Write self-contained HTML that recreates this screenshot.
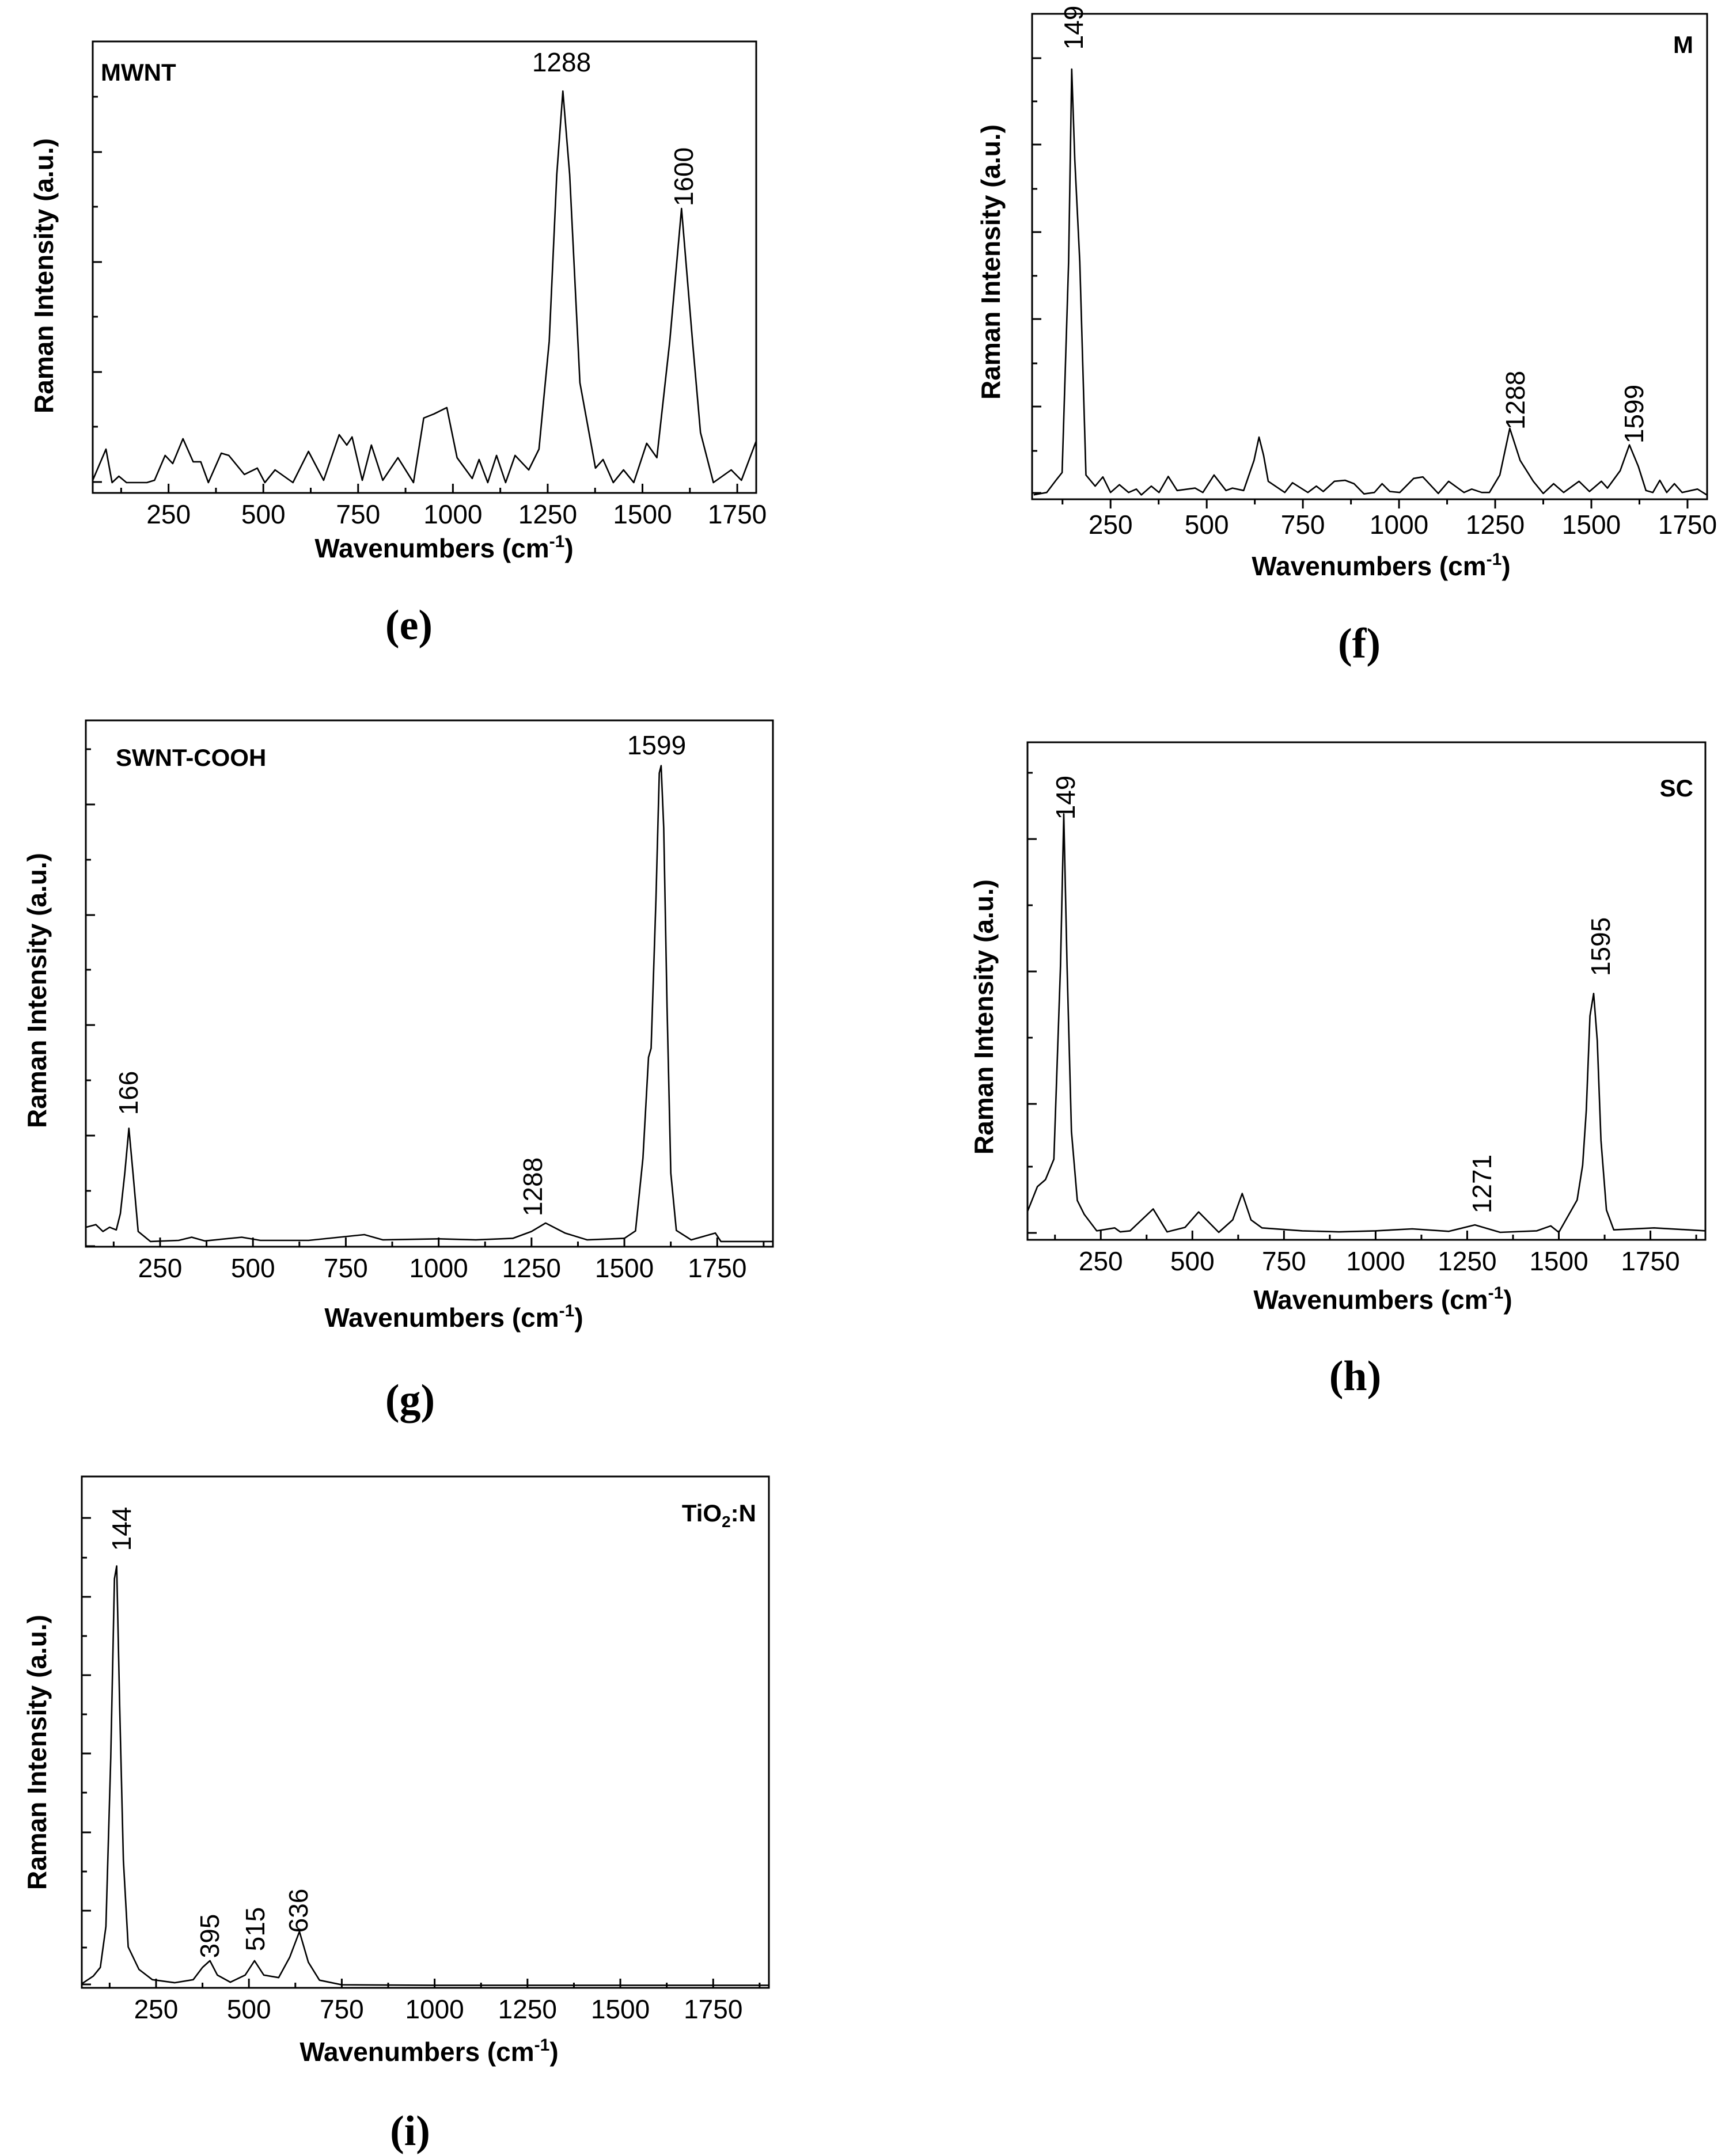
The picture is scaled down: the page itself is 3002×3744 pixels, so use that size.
<!DOCTYPE html>
<html><head><meta charset="utf-8"><style>
html,body{margin:0;padding:0;background:#fff;}
svg{display:block;}
text{font-family:"Liberation Sans",Arial,sans-serif;fill:#000;}
.tick{font-size:46px;}
.ttl{font-size:46px;font-weight:bold;}
.name{font-size:42px;font-weight:bold;}
.pk{font-size:46px;}
.plab{font-family:"Liberation Serif",serif;font-size:74px;font-weight:bold;}
</style></head><body>
<svg id="fig" width="3002" height="3744" viewBox="0 0 3002 3744" xmlns="http://www.w3.org/2000/svg"></svg>
<script>
// ---- data (wavenumber cm^-1, relative intensity % of frame height) ----
const eWave=[50,85,101,119,139,193,213,241,261,288,315,335,355,389,409,450,484,504,531,578,619,659,700,720,734,761,785,815,855,896,923,950,984,1011,1051,1069,1092,1115,1139,1164,1200,1227,1254,1274,1290,1308,1335,1376,1396,1423,1450,1477,1511,1538,1572,1603,1632,1653,1687,1734,1761,1800];
const eInt=[2.8,9.7,2.3,3.7,2.3,2.3,2.8,8.3,6.5,12,6.9,6.9,2.3,8.8,8.3,4.1,5.5,2.3,5.1,2.3,9.2,2.8,12.9,10.6,12.4,2.8,10.6,2.8,7.8,2.3,16.6,17.5,18.9,7.8,3.2,7.4,2.3,8.3,2.3,8.3,5.1,9.7,33.6,70.5,89,70.5,24.4,5.5,7.4,2.3,5.1,2.3,11,7.8,33.6,63,33.6,13.4,2.3,5.1,2.8,11.5];
const fWave=[50,84,110,124,141,149,157,170,186,210,230,250,273,297,317,330,356,376,400,423,470,490,519,550,567,596,623,636,648,660,703,723,763,785,803,832,860,883,909,936,956,976,1002,1038,1062,1102,1129,1169,1189,1215,1235,1262,1288,1315,1349,1375,1402,1428,1468,1495,1526,1542,1575,1599,1622,1642,1660,1678,1696,1716,1736,1776,1800];
const fInt=[0.9,1.4,4.1,5.5,48.9,88.6,70,48.9,5,2.7,4.6,1.4,3,1.4,2.1,0.9,2.7,1.4,4.7,1.8,2.3,1.4,5,1.8,2.3,1.8,8,12.8,9,3.7,1.4,3.4,1.4,2.7,1.6,3.7,3.9,3.2,1.1,1.4,3.2,1.6,1.4,4.3,4.6,1.2,3.7,1.4,2.1,1.4,1.4,5,14.6,8,3.7,1.2,3.2,1.4,3.7,1.6,3.7,2.3,5.9,11.2,6.8,1.8,1.4,3.9,1.4,3.2,1.4,2.1,0.9];
const gWave=[50,77,96,114,132,143,155,166,177,191,224,300,335,370,470,520,650,800,850,1000,1100,1200,1250,1288,1340,1400,1500,1530,1550,1565,1572,1585,1594,1599,1606,1615,1625,1640,1680,1745,1760,1900];
const gInt=[3.7,4.2,2.9,3.7,3.2,6.3,14,22.5,14,2.9,1,1.2,1.8,1.1,1.8,1.2,1.2,2.3,1.3,1.5,1.3,1.6,2.9,4.5,2.6,1.3,1.6,3,16.8,36,37.7,66,90,91.4,79.6,45.5,14,3.1,1.3,2.6,1,1];
const hWave=[50,77,99,122,140,149,158,170,186,205,239,288,303,330,393,431,480,517,572,610,636,660,690,800,900,1000,1100,1200,1271,1340,1440,1478,1500,1550,1565,1575,1585,1595,1605,1615,1630,1650,1760,1900];
const hInt=[5.7,10.7,12.1,16.2,55,85.6,55,21.8,7.9,5.1,1.8,2.4,1.6,1.8,6.2,1.6,2.5,5.6,1.5,4,9.3,4,2.4,1.8,1.6,1.8,2.2,1.7,3,1.5,1.8,2.8,1.5,8,15,26,45,49.5,40,20,6,2,2.4,1.8];
const iWave=[50,81,100,115,128,138,144,152,162,175,204,240,300,350,375,395,415,450,490,515,540,580,610,636,660,690,750,1000,1500,1900];
const iInt=[0.8,2.3,4,12,45,80,82.5,55,25,8,3.6,1.6,1,1.6,4,5.3,2.5,1.1,2.5,5.3,2.5,2,6,11,5,1.5,0.6,0.5,0.5,0.5];
const xTicks=[250,500,750,1000,1250,1500,1750];

const NS="http://www.w3.org/2000/svg";
const svg=document.getElementById('fig');
function mk(tag,attrs,parent){const el=document.createElementNS(NS,tag);for(const k in attrs)el.setAttribute(k,attrs[k]);(parent||svg).appendChild(el);return el;}

function panel(p){
  const g=mk('g',{});
  
  
  const W=p.right-p.left,H=p.bottom-p.top;
  const sx=w=>p.left+(w-p.xmin)/(p.xmax-p.xmin)*W;
  const sy=v=>p.bottom-v/100*H;
  const dir=p.out?1:-1;
  p.yt.forEach((y,i)=>{const t=mk('line',{x1:p.left,x2:p.left+(i%2?9:16),y1:y,y2:y,stroke:'#000','stroke-width':3},g);
    
    });
  for(let w=125;w<p.xmax;w+=125){const maj=w%250===0;
    const t=mk('line',{x1:sx(w),x2:sx(w),y1:p.bottom,y2:p.bottom+dir*(maj?16:9),stroke:'#000','stroke-width':3},g);
    
    }
  xTicks.forEach(w=>{const t=mk('text',{x:sx(w),y:p.bottom+(p.out?60:53),'text-anchor':'middle',class:'tick'},g);t.textContent=w;
    
    });
  const pts=p.wave.map((w,i)=>sx(w).toFixed(1)+','+sy(p.ints[i]).toFixed(1)).join(' ');
  const line=mk('polyline',{points:pts,fill:'none',stroke:'#000','stroke-width':2.6,'stroke-linejoin':'round'},g);
  
  
  const fr=mk('rect',{x:p.left,y:p.top,width:W,height:H,fill:'none',stroke:'#000','stroke-width':3},g);
  
  
  const xt=mk('text',{x:p.xt[0],y:p.xt[1],'text-anchor':'middle',class:'ttl'},g);
  xt.innerHTML='Wavenumbers (cm<tspan dy="-18" font-size="30">-1</tspan><tspan dy="18">)</tspan>';
  
  
  const yt=mk('text',{x:0,y:0,'text-anchor':'middle',class:'ttl',transform:`translate(${p.ytl[0]},${p.ytl[1]}) rotate(-90)`},g);
  yt.textContent='Raman Intensity (a.u.)';
  
  
  const nm=mk('text',{x:p.name[0],y:p.name[1],'text-anchor':p.name[2],class:'name'},g);
  nm.innerHTML=p.name[3];
  
  
  p.peaks.forEach(k=>{const t=mk('text',{x:0,y:0,'text-anchor':'middle',class:'pk',transform:`translate(${k[1]},${k[2]}) rotate(${k[3]})`},g);
    t.textContent=k[0];
    
    });
  const pl=mk('text',{x:p.plab[0],y:p.plab[1],'text-anchor':'middle',class:'plab'},g);
  pl.textContent=p.plab[2];
  
  
}

panel({id:'mwnt',left:161,right:1313,top:72,bottom:856,xmin:50,xmax:1800,wave:eWave,ints:eInt,
  yt:[837,741,646,550,455,359,264,168],xt:[771,968],ytl:[92,479],name:[175,140,'start','MWNT'],
  peaks:[['1288',975,124,0],['1600',1203,307,-90]],plab:[710,1110,'(e)']});
panel({id:'m',out:true,left:1792,right:2964,top:24,bottom:867,xmin:46,xmax:1801,wave:fWave,ints:fInt,
  yt:[856,783,706,631,554,479,403,328,251,176,101],xt:[2398,999],ytl:[1736,455],name:[2940,92,'end','M'],
  peaks:[['149',1880,48,-90],['1288',2647,695,-90],['1599',2853,719,-90]],plab:[2360,1142,'(f)']});
panel({id:'swnt-cooh',left:149,right:1342,top:1251,bottom:2165,xmin:50,xmax:1900,wave:gWave,ints:gInt,
  yt:[2164,2068,1972,1876,1780,1684,1589,1493,1397,1301],xt:[788,2304],ytl:[80,1720],name:[201,1330,'start','SWNT-COOH'],
  peaks:[['166',239,1898,-90],['1288',941,2061,-90],['1599',1140,1310,0]],plab:[712,2455,'(g)']});
panel({id:'sc',left:1784,right:2961,top:1289,bottom:2153,xmin:50,xmax:1900,wave:hWave,ints:hInt,
  yt:[2141,2026,1917,1802,1687,1572,1457,1342],xt:[2401,2273],ytl:[1724,1766],name:[2940,1383,'end','SC'],
  peaks:[['149',1866,1385,-90],['1271',2589,2056,-90],['1595',2795,1644,-90]],plab:[2353,2414,'(h)']});
panel({id:'tio2n',left:142,right:1335,top:2564,bottom:3452,xmin:50,xmax:1900,wave:iWave,ints:iInt,
  yt:[3446,3382,3318,3250,3182,3113,3045,2977,2909,2841,2773,2705,2636],xt:[745,3579],ytl:[80,3043],name:[1313,2642,'end','TiO<tspan dy="10" font-size="28">2</tspan><tspan dy="-10">:N</tspan>'],
  peaks:[['144',227,2655,-90],['395',380,3362,-90],['515',459,3350,-90],['636',534,3318,-90]],plab:[712,3725,'(i)']});
</script>
</body></html>
